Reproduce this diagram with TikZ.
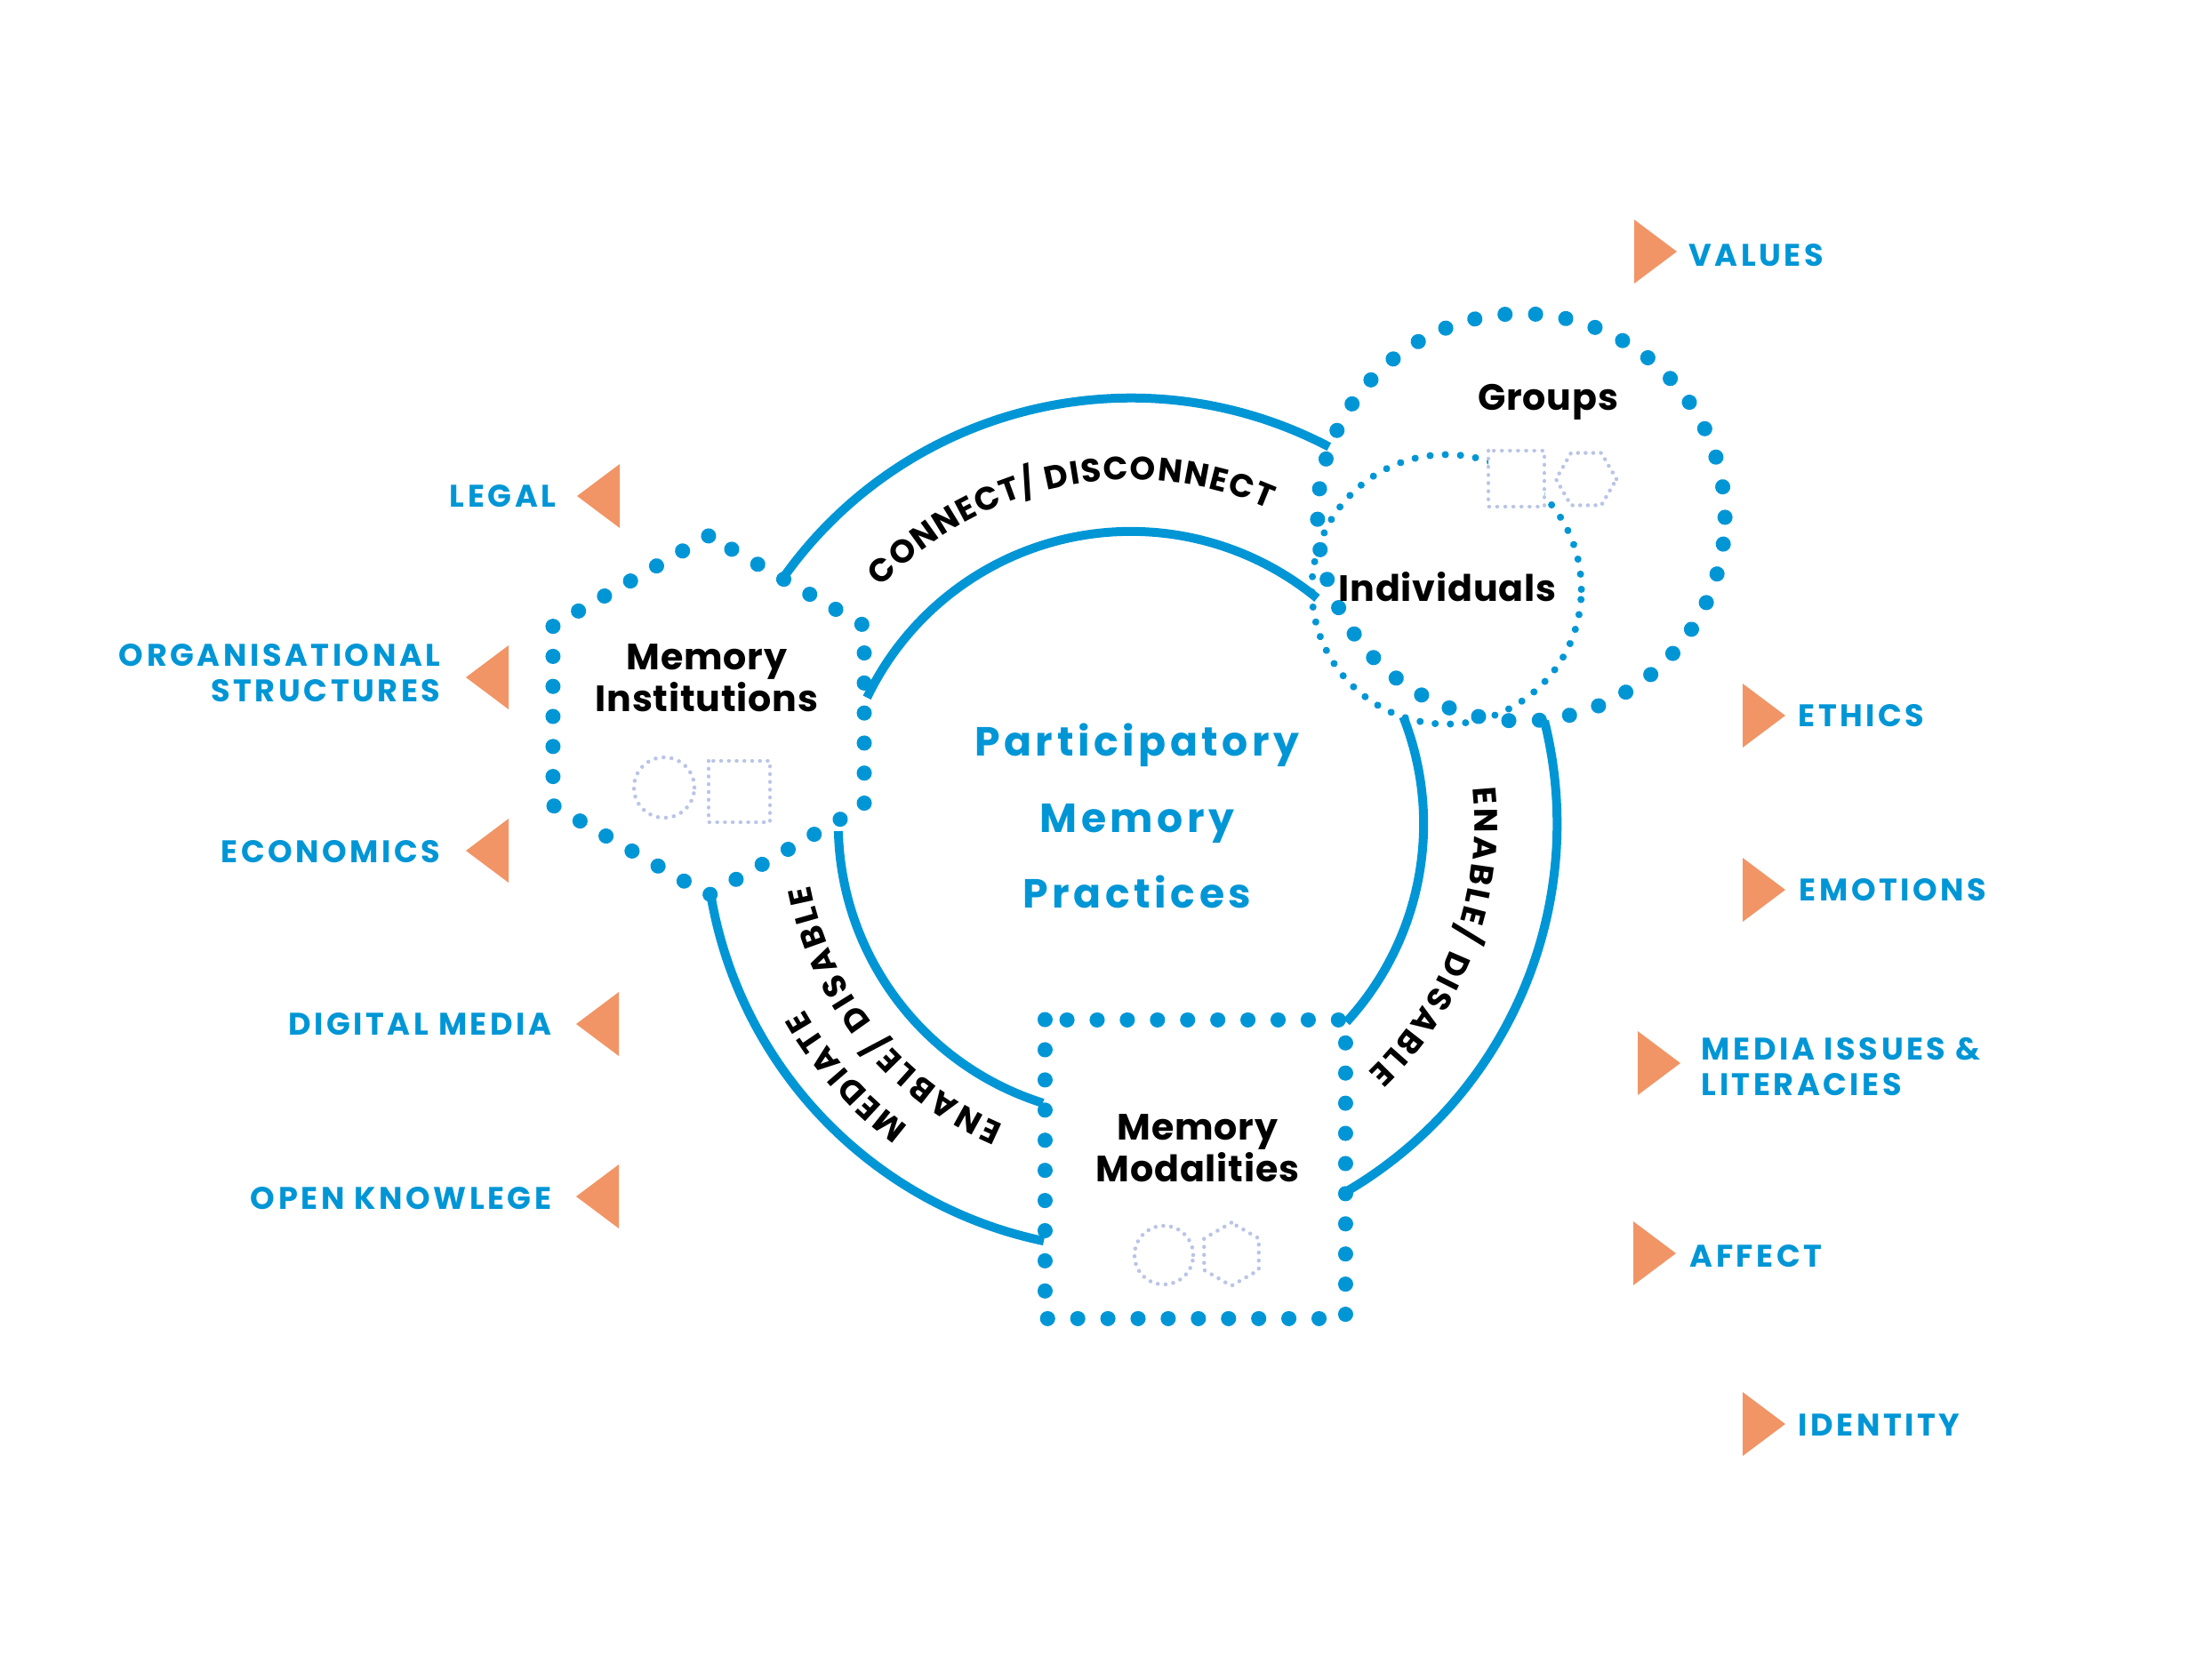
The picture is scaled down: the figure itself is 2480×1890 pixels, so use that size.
\documentclass[tikz,border=0pt]{standalone}
\usepackage{fontspec}
\setmainfont{Poppins}
\newfontfamily\lblfont[LetterSpace=10]{Poppins}
\newfontfamily\ctrfont[LetterSpace=10]{Poppins}
\newfontfamily\blkfont[LetterSpace=2]{Poppins}
\usetikzlibrary{decorations.text,calc}
\definecolor{pblue}{RGB}{0,150,214}
\definecolor{porange}{RGB}{241,149,102}
\definecolor{plav}{RGB}{186,196,230}
\newcommand\arcfnt{\bfseries\fontsize{10.4}{12}\selectfont}
\begin{document}
\begin{tikzpicture}[x=0.01cm,y=0.01cm,
  arcline/.style={draw=pblue, line width=0.1cm},
  bigdots/.style={draw=pblue, line width=0.17cm, line cap=round, dash pattern=on 0.001cm off #1},
  smalldots/.style={draw=pblue, line width=0.08cm, line cap=round, dash pattern=on 0.001cm off #1},
  icondots/.style={draw=plav, line width=0.045cm, line cap=round, dash pattern=on 0.001cm off #1},
  nodelabel/.style={font=\blkfont\bfseries\fontsize{11.7}{13.4}\selectfont, align=center, inner sep=0pt, text=black},
  lbl/.style={font=\lblfont\bfseries\fontsize{10}{11.3}\selectfont, text=pblue, inner sep=0pt},
  tri/.style={fill=porange},
  arctext/.style={decorate, decoration={text along path, text={|\arcfnt|#1}, text align={fit to path}}},
]
\useasboundingbox (0,0) rectangle (2480,-1890);

% hub and node anchors
\coordinate (hub) at (1272,-927);
\coordinate (inst) at (797,-805);
\coordinate (groups) at (1711,-582);
\coordinate (indiv) at (1627,-663);
\coordinate (modal) at (1344,-1315);

% connector arcs
\draw[arcline] ([shift={(154.4:3.29cm)}]hub) arc[start angle=154.4, end angle=50.5, radius=3.29cm];
\draw[arcline] ([shift={(144.8:4.79cm)}]hub) arc[start angle=144.8, end angle=62.3, radius=4.79cm];
\draw[arcline] ([shift={(21.5:3.29cm)}]hub) arc[start angle=21.5, end angle=-42.6, radius=3.29cm];
\draw[arcline] ([shift={(14:4.79cm)}]hub) arc[start angle=14, end angle=-59.2, radius=4.79cm];
\draw[arcline] ([shift={(181.4:3.29cm)}]hub) arc[start angle=181.4, end angle=252.5, radius=3.29cm];
\draw[arcline] ([shift={(189.6:4.79cm)}]hub) arc[start angle=189.6, end angle=258.2, radius=4.79cm];

% arc texts
\path[arctext={CONNECT/ DISCONNECT}] ([shift={(136.5:3.87cm)}]hub) arc[start angle=136.5, end angle=66.4, radius=3.87cm];
\path[arctext={ENABLE/ DISABLE}] ([shift={(6:3.86cm)}]hub) arc[start angle=6, end angle=-46.3, radius=3.86cm];
\path[arctext={ENABLE/ DISABLE}] ([shift={(247:3.67cm)}]hub) arc[start angle=247, end angle=190.8, radius=3.67cm];
\path[arctext={MEDIATE}] ([shift={(233.6:4.22cm)}]hub) arc[start angle=233.6, end angle=209.6, radius=4.22cm];

% Memory Institutions hexagon
\draw[bigdots=0.3367cm] ([shift={(90:2.02cm)}]inst)
  \foreach \a in {150,210,270,330,30} { -- ([shift={(\a:2.02cm)}]inst) } -- cycle;
\draw[icondots=0.089cm] ($(inst)+(-50,-81)$) circle[radius=0.34cm];
\draw[icondots=0.08625cm] ($(inst)+(0,-51)$) rectangle ($(inst)+(69,-120)$);
\node[nodelabel] (instlbl) at (795,-763) {Memory\\Institutions};

% Individuals and Groups
\draw[smalldots=0.1700cm] (indiv) circle[radius=1.515cm];
\draw[icondots=0.09cm, fill=white] (1674,-507) rectangle (1737,-570);
\draw[icondots=0.085cm] ([shift={(0:0.34cm)}]1784,-539)
  \foreach \a in {60,120,180,240,300} { -- ([shift={(\a:0.34cm)}]1784,-539) } -- cycle;
\draw[bigdots=0.3426cm] (groups) circle[radius=2.29cm];
\node[nodelabel] (groupslbl) at (1741,-452) {Groups};
\node[nodelabel] (indivlbl) at (1628,-660) {Individuals};

% Memory Modalities square
\draw[bigdots=0.338cm] ($(modal)+(-169,168)$) rectangle ($(modal)+(169,-168)$);
\draw[icondots=0.0864cm] (1309,-1412) circle[radius=0.33cm];
\draw[icondots=0.08875cm] ([shift={(90:0.355cm)}]1385,-1411)
  \foreach \a in {150,210,270,330,30} { -- ([shift={(\a:0.355cm)}]1385,-1411) } -- cycle;
\node[nodelabel] (modallbl) at (1347,-1292) {Memory\\Modalities};

% centre
\node[font=\ctrfont\bfseries\fontsize{13}{24.3}\selectfont, text=pblue, align=center, inner sep=0pt] (pmp) at (1279,-918) {Participatory\\Memory\\Practices};

% left labels
\node[lbl, anchor=east] (legal) at (626,-558) {LEGAL};
\node[lbl, anchor=east, align=right] (org) at (496,-757) {ORGANISATIONAL\\STRUCTURES};
\node[lbl, anchor=east] (econ) at (496,-958) {ECONOMICS};
\node[lbl, anchor=east] (digital) at (621,-1152) {DIGITAL MEDIA};
\node[lbl, anchor=east] (open) at (621,-1348) {OPEN KNOWLEGE};
\fill[tri] (649,-558) -- (697,-522) -- (697,-594) -- cycle;
\fill[tri] (524,-762) -- (572,-726) -- (572,-798) -- cycle;
\fill[tri] (524,-957) -- (572,-921) -- (572,-993) -- cycle;
\fill[tri] (648,-1152) -- (696,-1116) -- (696,-1188) -- cycle;
\fill[tri] (648,-1346) -- (696,-1310) -- (696,-1382) -- cycle;

% right labels
\node[lbl, anchor=west] (values) at (1899,-287) {VALUES};
\node[lbl, anchor=west] (ethics) at (2022,-805) {ETHICS};
\node[lbl, anchor=west] (emotions) at (2023,-1001) {EMOTIONS};
\node[lbl, anchor=west, align=left] (media) at (1913,-1200) {MEDIA ISSUES \&\\LITERACIES};
\node[lbl, anchor=west] (affect) at (1900,-1413) {AFFECT};
\node[lbl, anchor=west] (identity) at (2022,-1603) {IDENTITY};
\fill[tri] (1838,-247) -- (1886,-283) -- (1838,-319) -- cycle;
\fill[tri] (1960,-769) -- (2008,-805) -- (1960,-841) -- cycle;
\fill[tri] (1960,-965) -- (2008,-1001) -- (1960,-1037) -- cycle;
\fill[tri] (1842,-1160) -- (1890,-1196) -- (1842,-1232) -- cycle;
\fill[tri] (1837,-1374) -- (1885,-1410) -- (1837,-1446) -- cycle;
\fill[tri] (1960,-1566) -- (2008,-1602) -- (1960,-1638) -- cycle;
\end{tikzpicture}
\end{document}
